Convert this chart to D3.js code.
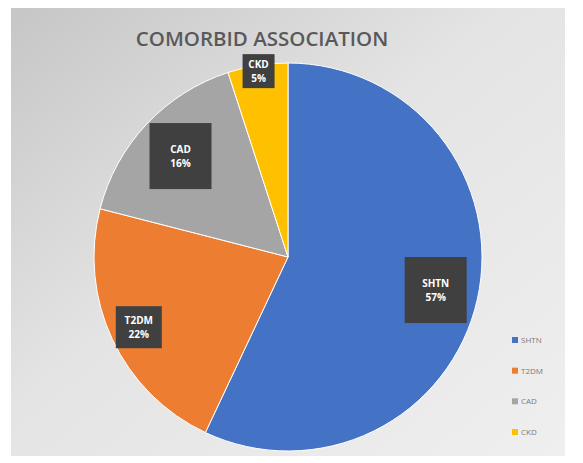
<!DOCTYPE html>
<html>
<head>
<meta charset="utf-8">
<script src="https://cdn.jsdelivr.net/npm/d3@7"></script>
<style>
  body { margin: 0; background: #fff; }
  svg { display: block; }
</style>
</head>
<body>
<div class="graphic"></div>
<script>
const categories = ['SHTN', 'T2DM', 'CAD', 'CKD']
const values = [57, 22, 16, 5]
const colors = ['#4472c4', '#ed7d31', '#a5a5a5', '#ffc000']
// label distance from centre, as share of radius (data labels were dragged)
const labelRadius = [0.78, 0.85, 0.76, 0.97]

const width = 583
const height = 463
const cx = 288
const cy = 257
const radius = 194

const svg = d3.select('.graphic').append('svg')
	.attr('width', width)
	.attr('height', height)

const defs = svg.append('defs')
const grad = defs.append('linearGradient')
	.attr('id', 'bg')
	.attr('x1', 0).attr('y1', 0).attr('x2', 1).attr('y2', 1)
grad.append('stop').attr('offset', '0%').attr('stop-color', '#c6c6c6')
grad.append('stop').attr('offset', '45%').attr('stop-color', '#e4e4e4')
grad.append('stop').attr('offset', '100%').attr('stop-color', '#efefef')

svg.append('rect')
	.attr('x', 11).attr('y', 8)
	.attr('width', 554).attr('height', 448)
	.attr('fill', 'url(#bg)')

svg.append('text')
	.attr('x', 262).attr('y', 46)
	.attr('text-anchor', 'middle')
	.attr('font-family', 'Open Sans, sans-serif')
	.attr('font-weight', 600)
	.attr('font-size', 20.5)
	.attr('fill', '#595959')
	.text('COMORBID ASSOCIATION')

const data = categories.map((c, i) => ({ name: c, value: values[i], color: colors[i], lr: labelRadius[i] }))

const pie = d3.pie().sort(null).value(d => d.value)
const arc = d3.arc().innerRadius(0).outerRadius(radius)

const g = svg.append('g').attr('transform', `translate(${cx},${cy})`)

const arcs = pie(data)
g.selectAll('path')
	.data(arcs)
	.enter().append('path')
		.attr('d', arc)
		.attr('fill', d => d.data.color)
		.attr('stroke', '#fff')
		.attr('stroke-width', 1)

const labels = g.selectAll('g.label')
	.data(arcs)
	.enter().append('g')
		.attr('class', 'label')
		.attr('transform', d => {
			const r = radius * d.data.lr
			const c = d3.arc().innerRadius(r).outerRadius(r).centroid(d)
			return `translate(${c[0]},${c[1]})`
		})

labels.each(function(d) {
	const el = d3.select(this)
	const big = d.data.name === 'SHTN' || d.data.name === 'CAD'
	const w = big ? 62 : (d.data.name === 'T2DM' ? 46 : 32)
	const h = big ? 66 : (d.data.name === 'T2DM' ? 42 : 34)
	el.append('rect')
		.attr('x', -w / 2).attr('y', -h / 2)
		.attr('width', w).attr('height', h)
		.attr('fill', '#404040')
	el.append('text')
		.attr('text-anchor', 'middle')
		.attr('y', -3)
		.attr('font-family', 'Open Sans, sans-serif')
		.attr('font-weight', 700)
		.attr('font-size', 10)
		.attr('fill', '#fff')
		.text(d.data.name)
	el.append('text')
		.attr('text-anchor', 'middle')
		.attr('y', 11)
		.attr('font-family', 'Open Sans, sans-serif')
		.attr('font-weight', 700)
		.attr('font-size', 10)
		.attr('fill', '#fff')
		.text(d.data.value + '%')
})

const legendY = d3.scalePoint().domain(categories).range([340, 432])
const legend = svg.append('g')
legend.selectAll('rect')
	.data(data)
	.enter().append('rect')
		.attr('x', 512)
		.attr('y', d => legendY(d.name) - 3)
		.attr('width', 6).attr('height', 6)
		.attr('fill', d => d.color)
legend.selectAll('text')
	.data(data)
	.enter().append('text')
		.attr('x', 521)
		.attr('y', d => legendY(d.name) + 3)
		.attr('font-family', 'Open Sans, sans-serif')
		.attr('font-size', 8)
		.attr('fill', '#7a7a7a')
		.text(d => d.name)
</script>
</body>
</html>
